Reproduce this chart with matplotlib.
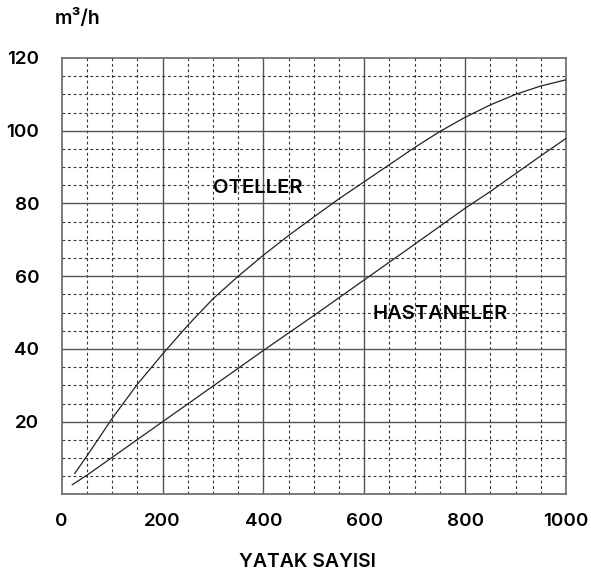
"""Hot water demand chart: OTELLER vs HASTANELER"""

import matplotlib
matplotlib.use("Agg")

import matplotlib.pyplot as plt

# ==========================================================
# DATA
# ==========================================================

oteller_x = [26, 50, 100, 150, 200, 250, 300, 350, 400, 450, 500,
             550, 600, 650, 700, 750, 800, 850, 900, 950, 1000]
oteller_y = [5.8, 10.6, 20.9, 30.3, 38.6, 46.5, 53.8, 60, 65.8, 71.2, 76.3,
             81.3, 86, 90.7, 95.4, 99.8, 103.7, 107.1, 110, 112.3, 114]

hastaneler_x = [21, 50, 100, 200, 300, 400, 500, 600, 700, 800, 850, 900, 950, 1000]
hastaneler_y = [2.7, 5.3, 10.2, 20, 29.8, 39.6, 49.2, 59, 68.8, 78.7, 83.3, 88.2, 93.1, 97.9]

x_ticks = [0, 200, 400, 600, 800, 1000]
y_ticks = [20, 40, 60, 80, 100, 120]

# ==========================================================
# FIGURE
# ==========================================================

plt.rcParams["font.family"] = ["Inter", "DejaVu Sans"]

fig = plt.figure(figsize=(5.91, 5.73), dpi=100, facecolor="white")
ax = fig.add_axes([0.1044, 0.137, 0.9577 - 0.1044, 0.8988 - 0.137])

ax.set_xlim(0, 1000)
ax.set_ylim(0, 120)

# grid: solid major every 200 / 20, dashed minor every 50 / 5
for xv in range(50, 1000, 50):
    if xv % 200 == 0:
        ax.axvline(xv, color="#555555", lw=1.0, zorder=1)
    else:
        ax.axvline(xv, color="#333333", lw=0.8, ls=(0, (2.5, 2.5)), zorder=1)

for yv in range(5, 120, 5):
    if yv % 20 == 0:
        ax.axhline(yv, color="#555555", lw=1.0, zorder=1)
    else:
        ax.axhline(yv, color="#333333", lw=0.8, ls=(0, (2.5, 2.5)), zorder=1)

# curves
ax.plot(oteller_x, oteller_y, color="#222222", lw=0.9, zorder=3)
ax.plot(hastaneler_x, hastaneler_y, color="#222222", lw=0.9, zorder=3)

# labels on curves
ax.text(300, 84.3, "OTELLER", fontsize=14.5, fontweight="semibold",
        ha="left", va="center", zorder=4)
ax.text(617, 49.6, "HASTANELER", fontsize=14.5, fontweight="semibold",
        ha="left", va="center", zorder=4)

# ticks
ax.set_xticks(x_ticks)
ax.set_xticklabels([str(v) for v in x_ticks], fontsize=13.5, fontweight="semibold")
ax.set_yticks(y_ticks)
ax.set_yticklabels([str(v) for v in y_ticks], fontsize=13.5, fontweight="semibold")
ax.tick_params(axis="both", length=0)
ax.tick_params(axis="x", pad=13)
ax.tick_params(axis="y", pad=16)

for sp in ax.spines.values():
    sp.set_color("#666666")
    sp.set_linewidth(1.2)

# axis titles
fig.text(55 / 591, 1 - 18 / 573, "m³/h", fontsize=14, fontweight="semibold",
         ha="left", va="center")
fig.text(307 / 591, 1 - 562 / 573, "YATAK SAYISI", fontsize=14,
         fontweight="semibold", ha="center", va="center")

fig.savefig("out.png", dpi=100, facecolor="white")
plt.close()
